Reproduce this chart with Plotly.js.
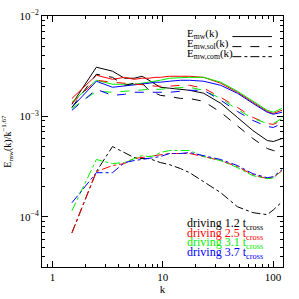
<!DOCTYPE html>
<html><head><meta charset="utf-8">
<script src="https://cdn.plot.ly/plotly-3.0.1.min.js"></script>
<style>html,body{margin:0;padding:0;background:#fff}#c{width:299px;height:299px}</style>
</head><body><div id="c"></div>
<script>
var k = [1.5, 2.5, 3.5, 4.5, 5.5, 6.5, 7.5, 8.5, 9.5, 11.5, 14.5, 17.5, 23.5, 33.5, 47.5, 65.5, 88.5, 100.5, 120.5];

// E_mw (solid)
var mw_12 = [1.32e-3, 3.09e-3, 2.82e-3, 2.40e-3, 2.40e-3, 2.51e-3, 2.29e-3, 2.09e-3, 1.95e-3, 1.91e-3, 1.86e-3, 1.82e-3, 1.70e-3, 1.35e-3, 9.77e-4, 7.24e-4, 5.75e-4, 5.62e-4, 6.03e-4];
var mw_25 = [1.51e-3, 2.57e-3, 2.34e-3, 2.45e-3, 2.34e-3, 2.40e-3, 2.40e-3, 2.45e-3, 2.45e-3, 2.51e-3, 2.51e-3, 2.51e-3, 2.45e-3, 2.14e-3, 1.74e-3, 1.38e-3, 1.12e-3, 1.07e-3, 1.15e-3];
var mw_31 = [1.38e-3, 2.29e-3, 2.09e-3, 2.09e-3, 2.09e-3, 2.14e-3, 2.19e-3, 2.24e-3, 2.29e-3, 2.40e-3, 2.45e-3, 2.45e-3, 2.45e-3, 2.19e-3, 1.78e-3, 1.41e-3, 1.15e-3, 1.10e-3, 1.20e-3];
var mw_37 = [1.23e-3, 2.24e-3, 1.95e-3, 2.00e-3, 2.04e-3, 2.09e-3, 2.14e-3, 2.19e-3, 2.19e-3, 2.24e-3, 2.29e-3, 2.29e-3, 2.24e-3, 2.04e-3, 1.70e-3, 1.35e-3, 1.10e-3, 1.05e-3, 1.10e-3];

// E_mw,sol (dashed)
var sol_12 = [1.23e-3, 2.63e-3, 2.45e-3, 2.04e-3, 2.14e-3, 2.14e-3, 1.82e-3, 1.70e-3, 1.62e-3, 1.58e-3, 1.51e-3, 1.51e-3, 1.41e-3, 1.10e-3, 8.13e-4, 6.03e-4, 4.79e-4, 4.57e-4, 4.37e-4];
var sol_25 = [1.35e-3, 2.29e-3, 2.19e-3, 2.14e-3, 2.09e-3, 2.09e-3, 2.04e-3, 2.00e-3, 2.00e-3, 2.00e-3, 2.04e-3, 2.04e-3, 1.91e-3, 1.55e-3, 1.23e-3, 9.77e-4, 8.51e-4, 8.32e-4, 9.12e-4];
var sol_31 = [1.20e-3, 1.78e-3, 1.74e-3, 1.78e-3, 1.82e-3, 1.82e-3, 1.86e-3, 1.86e-3, 1.86e-3, 1.91e-3, 1.95e-3, 1.95e-3, 1.82e-3, 1.51e-3, 1.17e-3, 9.55e-4, 8.51e-4, 8.51e-4, 9.55e-4];
var sol_37 = [1.15e-3, 1.86e-3, 1.62e-3, 1.66e-3, 1.74e-3, 1.74e-3, 1.74e-3, 1.74e-3, 1.74e-3, 1.74e-3, 1.78e-3, 1.82e-3, 1.82e-3, 1.45e-3, 1.12e-3, 9.12e-4, 7.94e-4, 7.76e-4, 8.51e-4];

// E_mw,com (dash-dot)
var com_12 = [6.92e-5, 2.82e-4, 5.01e-4, 4.37e-4, 3.89e-4, 3.80e-4, 3.80e-4, 3.63e-4, 3.47e-4, 3.31e-4, 3.02e-4, 2.75e-4, 2.24e-4, 1.74e-4, 1.26e-4, 1.10e-4, 1.05e-4, 1.17e-4, 1.41e-4];
var com_25 = [6.92e-5, 2.82e-4, 3.24e-4, 3.39e-4, 3.80e-4, 3.89e-4, 3.98e-4, 4.07e-4, 4.17e-4, 4.27e-4, 4.27e-4, 4.27e-4, 3.98e-4, 3.63e-4, 3.16e-4, 2.63e-4, 2.40e-4, 2.45e-4, 2.88e-4];
var com_31 = [1.15e-4, 3.72e-4, 3.39e-4, 3.47e-4, 3.80e-4, 4.07e-4, 3.98e-4, 4.07e-4, 4.37e-4, 4.57e-4, 4.57e-4, 4.57e-4, 3.98e-4, 3.63e-4, 3.09e-4, 2.57e-4, 2.40e-4, 2.45e-4, 2.88e-4];
var com_37 = [1.38e-4, 2.75e-4, 2.75e-4, 3.47e-4, 3.63e-4, 3.72e-4, 3.80e-4, 3.89e-4, 3.98e-4, 4.27e-4, 4.27e-4, 4.37e-4, 4.07e-4, 3.72e-4, 3.24e-4, 2.69e-4, 2.45e-4, 2.51e-4, 2.95e-4];

var runLabels = ['1.2', '2.5', '3.1', '3.7'];
var runColors = ['#000000', '#ff0000', '#00ee00', '#0000ff'];
var legendLabels = ['E<sub>mw</sub>(k)', 'E<sub>mw,sol</sub>(k)', 'E<sub>mw,com</sub>(k)'];
var legendDash = ['solid', 'dash', 'dashdot'];
var yTickVals = [1e-4, 1e-3, 1e-2];
var yTickText = ['10<sup>\u22124</sup>', '10<sup>\u22123</sup>', '10<sup>\u22122</sup>'];
var xTickVals = [1, 10, 100];
var xTickText = ['1', '10', '100'];

var groups = [[mw_12, mw_25, mw_31, mw_37], [sol_12, sol_25, sol_31, sol_37], [com_12, com_25, com_31, com_37]];
var traces = [];
for (var g = 0; g < 3; g++) {
  for (var r = 0; r < 4; r++) {
    traces.push({x: k, y: groups[g][r], mode: 'lines', showlegend: false,
      line: {color: runColors[r], width: 1, dash: legendDash[g]}});
  }
}

function minors(a, b) { var o = []; for (var e = a; e <= b; e++) for (var d = 2; d <= 9; d++) o.push(d * Math.pow(10, e)); return o; }

var font = {family: 'Liberation Serif, DejaVu Serif, serif', color: '#000'};
var ann = [];
var shapes = [];
var legY = [0.93, 0.89, 0.85];
for (var i = 0; i < 3; i++) {
  ann.push({xref: 'paper', yref: 'paper', x: 0.593, y: legY[i], xanchor: 'left', yanchor: 'middle', showarrow: false,
    text: legendLabels[i], font: {family: font.family, size: 11, color: '#000'}});
  shapes.push({type: 'line', xref: 'paper', yref: 'paper', x0: 0.79, x1: 0.954, y0: legY[i] - 0.012, y1: legY[i] - 0.012,
    line: {color: '#000', width: 1, dash: legendDash[i]}});
}
var drvY = [0.171, 0.133, 0.095, 0.057];
for (var j = 0; j < 4; j++) {
  ann.push({xref: 'paper', yref: 'paper', x: 0.593, y: drvY[j], xanchor: 'left', yanchor: 'middle', showarrow: false,
    text: 'driving ' + runLabels[j] + ' t<sub>cross</sub>', font: {family: font.family, size: 12, color: runColors[j]}});
}

var axisCommon = {type: 'log', showgrid: false, zeroline: false, showline: true, linecolor: '#000', linewidth: 1,
  mirror: 'allticks', ticks: 'inside', ticklen: 6, tickcolor: '#000', tickfont: {family: font.family, size: 11, color: '#000'}};

var layout = {
  width: 299, height: 299,
  margin: {l: 42, r: 16, t: 16, b: 32},
  paper_bgcolor: '#fff', plot_bgcolor: '#fff',
  showlegend: false,
  xaxis: Object.assign({}, axisCommon, {range: [-0.095, 2.09], tickmode: 'array', tickvals: xTickVals, ticktext: xTickText,
    minor: {tickmode: 'array', tickvals: minors(-1, 2), ticks: 'inside', ticklen: 3, tickcolor: '#000', showgrid: false},
    title: {text: 'k', font: {family: font.family, size: 11, color: '#000'}, standoff: 0}}),
  yaxis: Object.assign({}, axisCommon, {range: [-4.5, -2], tickmode: 'array', tickvals: yTickVals, ticktext: yTickText,
    minor: {tickmode: 'array', tickvals: minors(-5, -3), ticks: 'inside', ticklen: 3, tickcolor: '#000', showgrid: false},
    title: {text: 'E<sub>mw</sub>(k)/k<sup>\u22121.67</sup>', font: {family: font.family, size: 10, color: '#000'}, standoff: 6}}),
  annotations: ann,
  shapes: shapes
};

Plotly.newPlot('c', traces, layout, {staticPlot: true, displayModeBar: false});
</script>
</body></html>
